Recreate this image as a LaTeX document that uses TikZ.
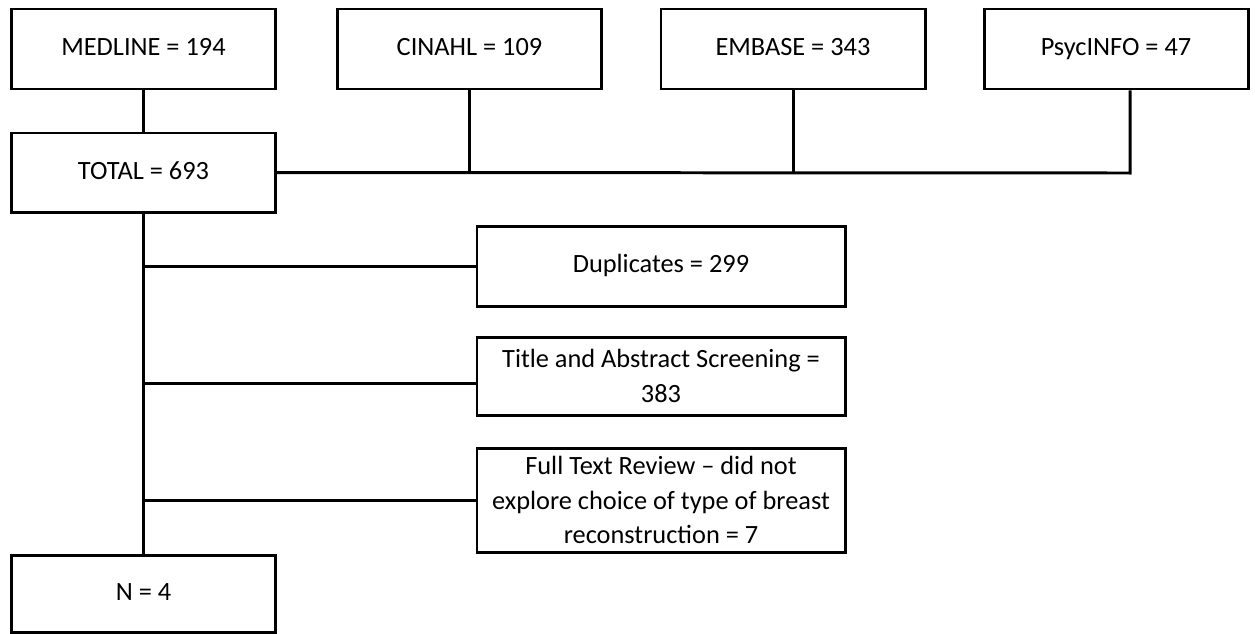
\documentclass[tikz,border=0pt]{standalone}
\usepackage{fontspec}
\setmainfont{Carlito}
\usepackage{tikz}

\begin{document}
\begin{tikzpicture}[x=0.02cm, y=-0.02cm,
		frame/.style={draw, line width=1.7pt, rectangle, align=center,
			minimum width=264*0.02cm, minimum height=80*0.02cm, inner sep=0pt,
			font=\fontsize{15}{19.5}\selectfont},
		box/.style={frame, text height=11pt, text depth=3.5pt},
		wide/.style={frame, minimum width=368*0.02cm},
		link/.style={line width=1.7pt}]
			% Fix the page
			\useasboundingbox (0,0) rectangle (1255,633);
			
			% Draw the database boxes
			\node[box] (medline) at (143.5, 49) {MEDLINE = 194};
			\node[box] (cinahl) at (469.5, 49) {CINAHL = 109};
			\node[box] (embase) at (793, 49) {EMBASE = 343};
			\node[box] (psycinfo) at (1116, 49) {PsycINFO = 47};
			
			% Draw the total box
			\node[box, minimum height=79*0.02cm] (total) at (143.5, 172.5) {TOTAL = 693};
			
			% Draw the exclusion boxes
			\node[box, minimum width=368*0.02cm] (dupes) at (661, 266) {Duplicates = 299};
			\node[wide, minimum height=78*0.02cm] (screen) at (661, 376) {Title and Abstract Screening =\\ 383};
			\node[wide, minimum height=104*0.02cm] (review) at (661, 500) {Full Text Review -- did not\\ explore choice of type of breast\\ reconstruction = 7};
			
			% Draw the final box
			\node[box, minimum height=77*0.02cm] (final) at (143.5, 593.5) {N = 4};
			
			% Join the databases to the total
			\coordinate (psycjoin) at (1130, 173);
			\draw[link] (medline) -- (total);
			\draw[link] (total.east) -- (psycjoin) -- (psycjoin |- psycinfo.south);
			\draw[link] (cinahl.south) -- (cinahl.south |- total.east);
			\draw[link] (embase.south) -- (embase.south |- total.east);
			
			% Draw the main line and the exclusions
			\draw[link] (total.south) -- (final.north);
			\draw[link] (dupes.west -| total.south) -- (dupes.west);
			\draw[link] ([yshift=-4pt]screen.west -| total.south) -- ([yshift=-4pt]screen.west);
			\draw[link] (review.west -| total.south) -- (review.west);
		\end{tikzpicture}
\end{document}
